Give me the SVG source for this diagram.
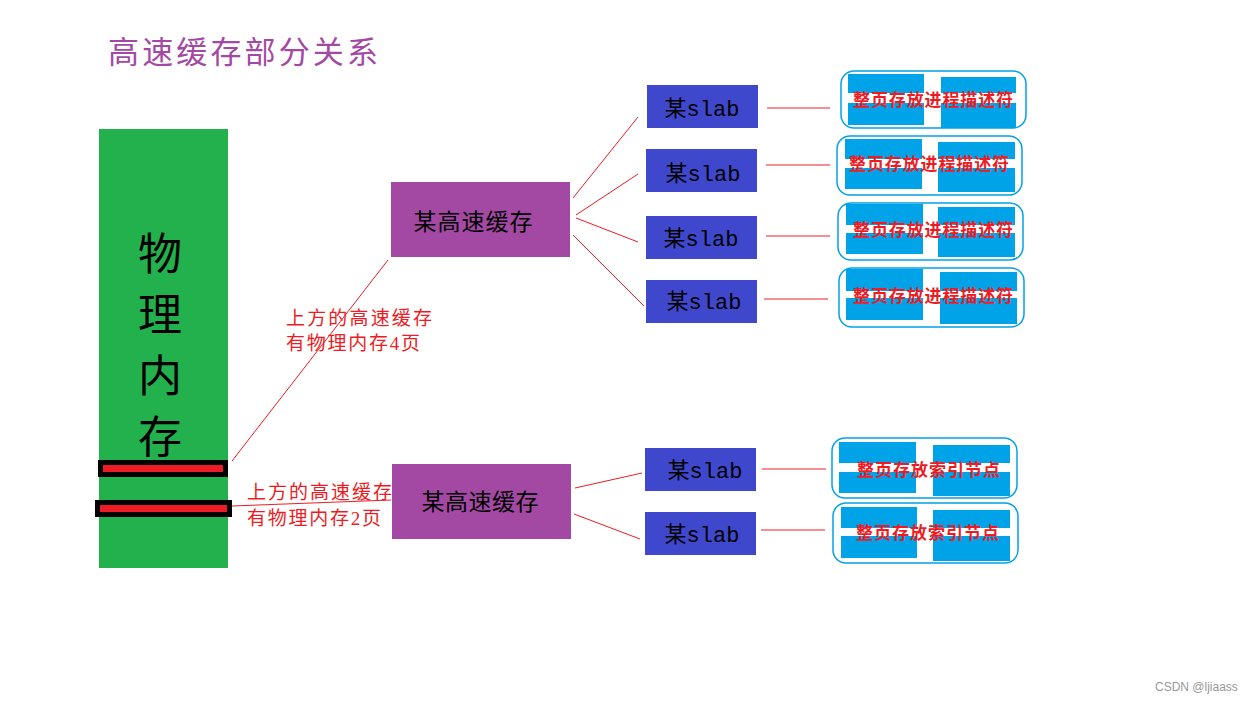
<svg xmlns="http://www.w3.org/2000/svg" width="1255" height="703" viewBox="0 0 1255 703">
<style>
.t{font-family:"Liberation Serif","Noto Sans CJK SC",serif;}
.m{font-family:"Liberation Mono","Noto Sans CJK SC",monospace;}
.title{fill:#a349a4;font-size:31px;}
.mem{fill:#000;font-size:44px;}
.cache{fill:#a349a4;}
.ctext{fill:#000;font-size:23px;}
.slab{fill:#3f48cc;}
.stext{fill:#000;font-size:22px;}
.lbl{fill:#ed1c24;font-size:19px;}
.ln{stroke:#ed1c24;stroke-width:1;fill:none;}
.outline{fill:#fff;stroke:#00a2e8;stroke-width:1.5;}
.blk{fill:#00a2e8;}
.band{fill:#fff;}
.rt{fill:#ed1c24;font-size:17px;font-weight:bold;}
.wm{fill:#999;font-family:"Liberation Sans",sans-serif;font-size:12px;}
</style>
<rect width="1255" height="703" fill="#fff"/>
<text class="t title" x="108" y="63" textLength="270">高速缓存部分关系</text>

<g id="memory">
<rect x="99" y="129" width="129" height="439" fill="#22b14c"/>
<text class="t mem" x="160" y="270" text-anchor="middle">物</text>
<text class="t mem" x="160" y="331" text-anchor="middle">理</text>
<text class="t mem" x="160" y="392" text-anchor="middle">内</text>
<text class="t mem" x="160" y="453" text-anchor="middle">存</text>
<rect x="100.5" y="462.5" width="125" height="12" fill="#ed1c24" stroke="#000" stroke-width="5"/>
<rect x="97.5" y="502.5" width="132" height="12" fill="#ed1c24" stroke="#000" stroke-width="5"/>
</g>

<g id="connectors">
<line class="ln" x1="232" y1="461" x2="388" y2="260"/>
<line class="ln" x1="232" y1="506" x2="391" y2="500"/>
<line class="ln" x1="573" y1="198" x2="638" y2="117"/>
<line class="ln" x1="576" y1="215" x2="638" y2="174"/>
<line class="ln" x1="576" y1="218" x2="638" y2="242"/>
<line class="ln" x1="573" y1="235" x2="644" y2="306"/>
<line class="ln" x1="575" y1="488" x2="642" y2="473"/>
<line class="ln" x1="574" y1="514" x2="640" y2="539"/>
<line class="ln" x1="767" y1="108" x2="830" y2="108"/>
<line class="ln" x1="766" y1="165" x2="830" y2="165"/>
<line class="ln" x1="766" y1="236" x2="830" y2="236"/>
<line class="ln" x1="764" y1="299" x2="828" y2="299"/>
<line class="ln" x1="762" y1="469" x2="826" y2="469"/>
<line class="ln" x1="761" y1="530" x2="825" y2="530"/>
</g>

<g id="label1">
<text class="t lbl" x="286" y="325" textLength="146">上方的高速缓存</text>
<text class="t lbl" x="286" y="350" textLength="134">有物理内存4页</text>
</g>
<g id="label2">
<text class="t lbl" x="247" y="499" textLength="145">上方的高速缓存</text>
<text class="t lbl" x="247" y="525" textLength="134">有物理内存2页</text>
</g>

<g id="cache1">
<rect class="cache" x="391" y="182" width="179" height="75"/>
<text class="t ctext" x="473" y="230" text-anchor="middle" textLength="119">某高速缓存</text>
</g>
<g id="cache2">
<rect class="cache" x="392" y="464" width="179" height="75"/>
<text class="t ctext" x="480" y="510" text-anchor="middle" textLength="117">某高速缓存</text>
</g>

<g id="slab1"><rect class="slab" x="647" y="85" width="111" height="43"/><text class="m stext" x="702" y="116" text-anchor="middle">某slab</text></g>
<g id="slab2"><rect class="slab" x="646" y="149" width="111" height="43"/><text class="m stext" x="703" y="181" text-anchor="middle">某slab</text></g>
<g id="slab3"><rect class="slab" x="646" y="216" width="111" height="43"/><text class="m stext" x="701" y="246" text-anchor="middle">某slab</text></g>
<g id="slab4"><rect class="slab" x="646" y="280" width="111" height="43"/><text class="m stext" x="704" y="309" text-anchor="middle">某slab</text></g>
<g id="slab5"><rect class="slab" x="645" y="448" width="111" height="43"/><text class="m stext" x="705" y="478" text-anchor="middle">某slab</text></g>
<g id="slab6"><rect class="slab" x="645" y="512" width="111" height="43"/><text class="m stext" x="702" y="542" text-anchor="middle">某slab</text></g>

<g id="page1">
<rect class="outline" x="841" y="71" width="185" height="57" rx="13"/>
<rect class="blk" x="848" y="74" width="76" height="51"/>
<rect class="blk" x="941" y="77" width="75" height="51"/>
<rect class="band" x="846" y="93" width="172" height="10"/>
<text class="t rt" x="853" y="106" textLength="160">整页存放进程描述符</text>
</g>
<g id="page2">
<rect class="outline" x="837" y="136" width="185" height="59" rx="13"/>
<rect class="blk" x="845" y="139" width="77" height="50"/>
<rect class="blk" x="938" y="142" width="77" height="50"/>
<rect class="band" x="843" y="159" width="174" height="9"/>
<text class="t rt" x="849" y="170" textLength="160">整页存放进程描述符</text>
</g>
<g id="page3">
<rect class="outline" x="838" y="203" width="185" height="57" rx="13"/>
<rect class="blk" x="846" y="204" width="77" height="50"/>
<rect class="blk" x="938" y="207" width="77" height="50"/>
<rect class="band" x="844" y="225" width="174" height="8"/>
<text class="t rt" x="853" y="236" textLength="160">整页存放进程描述符</text>
</g>
<g id="page4">
<rect class="outline" x="839" y="268" width="185" height="59" rx="13"/>
<rect class="blk" x="846" y="269" width="77" height="51"/>
<rect class="blk" x="940" y="272" width="77" height="52"/>
<rect class="band" x="844" y="291" width="175" height="7"/>
<text class="t rt" x="853" y="302" textLength="160">整页存放进程描述符</text>
</g>
<g id="page5">
<rect class="outline" x="832" y="438" width="185" height="60" rx="13"/>
<rect class="blk" x="839" y="442" width="77" height="51"/>
<rect class="blk" x="933" y="445" width="77" height="51"/>
<rect class="band" x="837" y="463" width="175" height="9"/>
<text class="t rt" x="857" y="476" textLength="143">整页存放索引节点</text>
</g>
<g id="page6">
<rect class="outline" x="833" y="503" width="185" height="60" rx="13"/>
<rect class="blk" x="841" y="507" width="76" height="51"/>
<rect class="blk" x="933" y="510" width="77" height="51"/>
<rect class="band" x="839" y="528" width="173" height="8"/>
<text class="t rt" x="856" y="539" textLength="143">整页存放索引节点</text>
</g>

<text class="wm" x="1155" y="691">CSDN @ljiaass</text>
</svg>
